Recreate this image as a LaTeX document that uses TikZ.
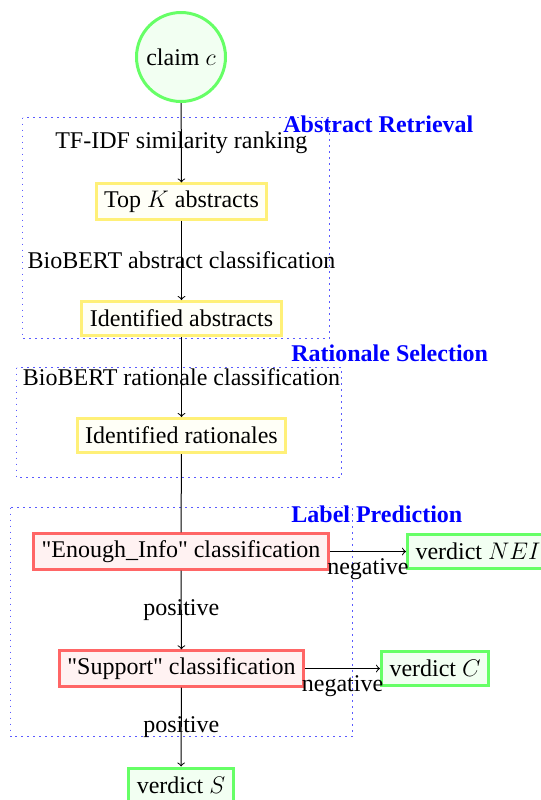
\documentclass[tikz,border=0pt]{standalone}
\usepackage{fontspec}
\setmainfont{Liberation Serif}
\definecolor{vgreen}{RGB}{102,255,102}
\definecolor{vyellow}{RGB}{255,240,120}
\definecolor{vred}{RGB}{255,102,102}
\definecolor{vblue}{RGB}{90,90,255}
\begin{document}
\begin{tikzpicture}[x=0.5pt,y=-0.5pt,
  font=\fontsize{12}{14}\selectfont,
  gbox/.style={draw=vgreen, fill=green!5, line width=1.5pt, inner xsep=4pt, minimum height=17pt},
  ybox/.style={draw=vyellow, fill=yellow!3, line width=1.5pt, inner xsep=4pt, minimum height=17pt},
  rbox/.style={draw=vred, fill=red!5, line width=1.5pt, inner xsep=4pt, minimum height=17pt},
  claimnode/.style={circle, draw=vgreen, fill=green!5, line width=1.5pt, minimum size=44.5pt, inner sep=0pt},
  group/.style={draw=vblue, line width=0.8pt, dash pattern=on 0.8pt off 2.2pt},
  grouplabel/.style={text=blue, font=\fontsize{12}{14}\selectfont\bfseries, inner sep=0pt, anchor=west},
  flow/.style={->, line width=0.5pt}
]
\useasboundingbox (0,0) rectangle (541,800);

% group frames
\draw[group] (22.5,117.5) rectangle (329.5,338.5);
\draw[group] (16.5,367.5) rectangle (341.5,477.5);
\draw[group] (10.5,507.5) rectangle (352.5,736.5);

% nodes
\node[claimnode] (claim) at (181,57) {claim $c$};
\node[ybox] (topk) at (181.5,201.5) {Top $K$ abstracts};
\node[ybox] (idabs) at (181.5,318.5) {Identified abstracts};
\node[ybox] (idrat) at (181.5,435.5) {Identified rationales};
\node[rbox] (enough) at (181,551.5) {\textquotedbl Enough\_Info\textquotedbl{} classification};
\node[gbox, anchor=west] (nei) at (406,551.5) {verdict $NEI$};
\node[rbox] (support) at (181.5,668.5) {\textquotedbl Support\textquotedbl{} classification};
\node[gbox, anchor=west] (vc) at (380,668.5) {verdict $C$};
\node[gbox] (vs) at (181,785) {verdict $S$};

% group labels
\node[grouplabel] (lab1) at (283,124) {Abstract Retrieval};
\node[grouplabel] (lab2) at (291,353) {Rationale Selection};
\node[grouplabel] (lab3) at (291,514) {Label Prediction};

% connectors
\draw[flow] (claim) -- node {TF-IDF similarity ranking} (topk);
\draw[flow] (topk) -- node {BioBERT abstract classification} (idabs);
\draw[flow] (idabs) -- node {BioBERT rationale classification} (idrat);
\draw[line width=0.5pt] (idrat) -- (enough);
\draw[flow] (enough) -- node {positive} (support);
\draw[flow] (support) -- node {positive} (vs);
\draw[flow] (enough) -- node[below] {negative} (nei);
\draw[flow] (support) -- node[below] {negative} (vc);
\end{tikzpicture}
\end{document}
